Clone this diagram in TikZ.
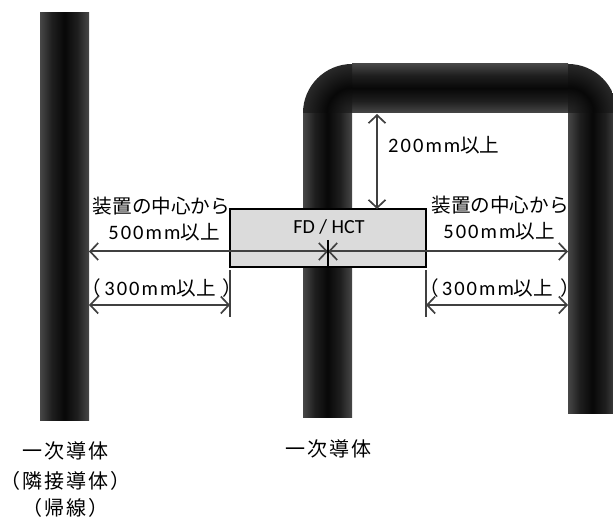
\documentclass[tikz,border=0pt]{standalone}
\usepackage{fontspec}
\usetikzlibrary{arrows.meta}
\newfontfamily\jpf{Noto Sans CJK JP}
\newfontfamily\jpwide[LetterSpace=10]{Noto Sans CJK JP}
\newfontfamily\latf[LetterSpace=10]{Carlito}
\newfontfamily\boxf{Carlito}
\newcommand{\lat}[1]{{\latf\fontsize{20.5}{24}\selectfont #1}}
\pgfdeclarehorizontalshading{barshade}{100bp}{
  color(0bp)=(black!72!white);
  color(25bp)=(black!72!white);
  color(37bp)=(black!88!white);
  color(50bp)=(black!97!white);
  color(63bp)=(black!88!white);
  color(75bp)=(black!72!white);
  color(100bp)=(black!72!white)}
\pgfdeclareradialshading{cornershade}{\pgfpoint{0bp}{0bp}}{
  color(0bp)=(black!84!white);
  color(8bp)=(black!92!white);
  color(13bp)=(black!97!white);
  color(25bp)=(black!84!white);
  color(50bp)=(black!84!white)}
\tikzset{
  barfill/.style={shading=barshade},
  hbarfill/.style={shading=barshade,shading angle=90},
  cornerfill/.style={shading=cornershade},
  dim/.style={draw=black!75,line width=2pt,{Straight Barb[length=8pt,width=17pt,line width=1.7pt]}-{Straight Barb[length=8pt,width=17pt,line width=1.7pt]}},
  tick/.style={draw=black!75,line width=1.7pt},
  devbox/.style={draw=black,line width=1.3pt,fill=black!14,minimum width=196pt,minimum height=58pt,inner sep=0pt},
  dimlabel/.style={inner sep=0pt,font={\jpf\fontsize{19.6}{24}\selectfont},text=black},
  condlabel/.style={inner sep=0pt,font={\jpwide\fontsize{20}{24}\selectfont},text=black},
  boxlabel/.style={inner sep=0pt,font={\boxf\fontsize{20}{24}\selectfont},text=black}
}
\begin{document}
\begin{tikzpicture}[x=1pt,y=-1pt]
\useasboundingbox (0,0) rectangle (613,518);
\clip (0,0) rectangle (613,518);
% conductors
\shade[barfill] (40,13) rectangle (89,420);
\shade[barfill] (303,113) rectangle (352,417);
\shade[barfill] (568,113) rectangle (617,413);
\shade[hbarfill] (352,63.5) rectangle (568,113);
\begin{scope}
  \clip (352,113) -- (303,113) arc[start angle=180,end angle=270,radius=49] -- cycle;
  \shade[cornerfill] (352,113) circle (49);
\end{scope}
\begin{scope}
  \clip (568,113) -- (568,64) arc[start angle=270,end angle=360,radius=49] -- cycle;
  \shade[cornerfill] (568,113) circle (49);
\end{scope}
% device
\node[devbox] (fd) at (328,238) {};
\node[boxlabel] (fdtext) at (329,227) {FD / HCT};
% anchor points
\coordinate (leftface) at (89,251.5);
\coordinate (centre) at (328,251.5);
\coordinate (rightface) at (568,251.5);
\coordinate (bartop) at (377,114);
\coordinate (boxtop) at (377,209);
\coordinate (l3a) at (89,305);
\coordinate (l3b) at (230,305);
\coordinate (r3a) at (426,305);
\coordinate (r3b) at (568,305);
\coordinate (ltick) at (230,270);
\coordinate (ltickb) at (230,317);
\coordinate (rtick) at (426,270);
\coordinate (rtickb) at (426,317);
\coordinate (ctop) at (328,240);
\coordinate (cbot) at (328,267);
% connectors
\draw[dim] (leftface) -- (centre);
\draw[dim] (centre) -- (rightface);
\draw[black,line width=1.2pt] (ctop) -- (cbot);
\draw[dim] (bartop) -- (boxtop);
\draw[dim] (l3a) -- (l3b);
\draw[dim] (r3a) -- (r3b);
\draw[tick] (ltick) -- (ltickb);
\draw[tick] (rtick) -- (rtickb);
% labels
\node[dimlabel,anchor=west] (h) at (388,145) {\lat{200mm}以上};
\node[dimlabel] (la) at (161.5,206) {装置の中心から};
\node[dimlabel] (lb) at (164,232) {\lat{500mm}以上};
\node[dimlabel] (ra) at (500,205) {装置の中心から};
\node[dimlabel] (rb) at (499,231) {\lat{500mm}以上};
\node[dimlabel] (lc) at (162,288) {（\kern3pt\lat{300mm}以上\kern7pt）};
\node[dimlabel] (rc) at (499.5,288) {（\kern3pt\lat{300mm}以上\kern7pt）};
\node[condlabel] (c1) at (65,451) {一次導体};
\node[condlabel] (c2) at (65,481) {（隣接導体）};
\node[condlabel] (c3) at (65,507.5) {（帰線）};
\node[condlabel] (c4) at (328,449) {一次導体};
\end{tikzpicture}
\end{document}
